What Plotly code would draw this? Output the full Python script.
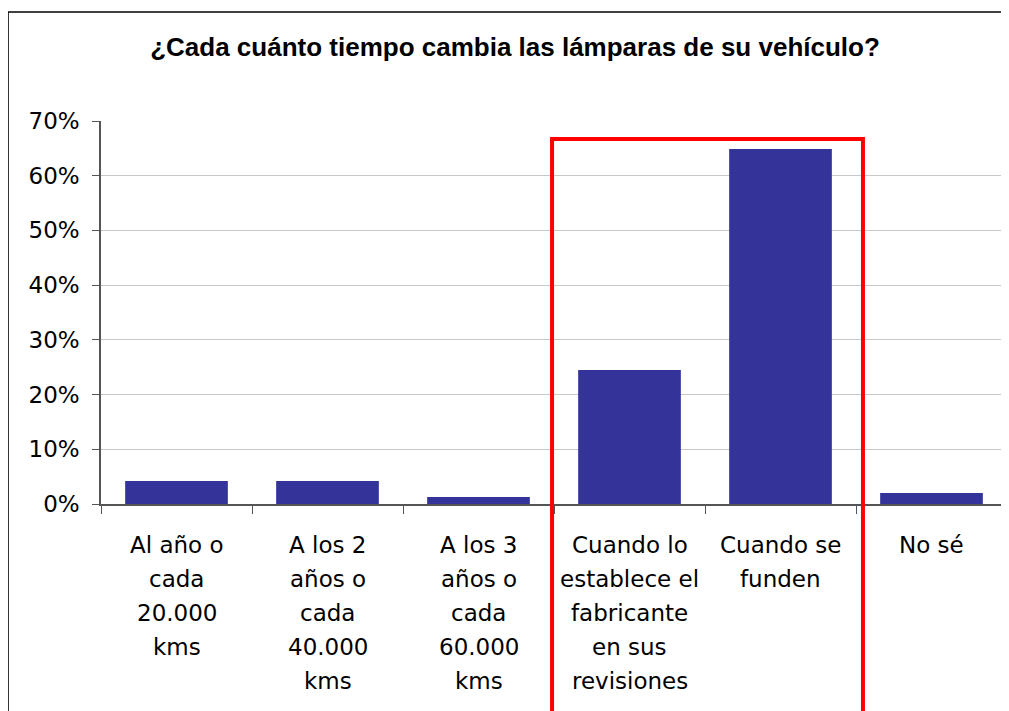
import plotly.graph_objects as go

categories = [
    "Al año o cada 20.000 kms",
    "A los 2 años o cada 40.000 kms",
    "A los 3 años o cada 60.000 kms",
    "Cuando lo establece el fabricante en sus revisiones",
    "Cuando se funden",
    "No sé",
]
label_lines = [
    ["Al año o", "cada", "20.000", "kms"],
    ["A los 2", "años o", "cada", "40.000", "kms"],
    ["A los 3", "años o", "cada", "60.000", "kms"],
    ["Cuando lo", "establece el", "fabricante", "en sus", "revisiones"],
    ["Cuando se", "funden"],
    ["No sé"],
]
values = [0.042, 0.042, 0.013, 0.245, 0.649, 0.020]
y_ticks = [0, 0.1, 0.2, 0.3, 0.4, 0.5, 0.6, 0.7]
y_labels = ["0%", "10%", "20%", "30%", "40%", "50%", "60%", "70%"]

label_font = "DejaVu Sans"
plot_h = 383  # alto del área de trazado en px

fig = go.Figure()

fig.add_trace(
    go.Bar(
        x=categories,
        y=values,
        marker=dict(color="#333399", line=dict(width=0)),
        hoverinfo="skip",
    )
)

# etiquetas del eje x, una línea por anotación para imitar el interlineado
for cat, lines in zip(categories, label_lines):
    for i, txt in enumerate(lines):
        fig.add_annotation(
            x=cat, xref="x",
            y=-(41 + 34 * i) / plot_h, yref="paper",
            text=txt, showarrow=False,
            xanchor="center", yanchor="middle",
            font=dict(family=label_font, size=23, color="black"),
        )

# marco del gráfico (solo se ven los bordes superior e izquierdo)
fig.add_shape(
    type="line", xref="paper", yref="paper",
    x0=-0.1026, x1=1.2, y0=1.2846, y1=1.2846,
    line=dict(color="black", width=1.5),
)
fig.add_shape(
    type="line", xref="paper", yref="paper",
    x0=-0.1026, x1=-0.1026, y0=1.2846, y1=-0.7,
    line=dict(color="black", width=1.5),
)

# recuadro rojo destacando dos categorías
fig.add_shape(
    type="rect", xref="x", yref="paper",
    x0=2.487, x1=4.546, y0=-0.7, y1=0.953,
    line=dict(color="#FF0000", width=4),
    fillcolor="rgba(0,0,0,0)",
)

fig.update_layout(
    width=1001,
    height=703,
    margin=dict(l=93, r=2, t=113, b=207),
    paper_bgcolor="white",
    plot_bgcolor="white",
    showlegend=False,
    bargap=0.32,
    title=dict(
        text="<b>¿Cada cuánto tiempo cambia las lámparas de su vehículo?</b>",
        font=dict(family="Liberation Sans", size=26, color="black"),
        x=507 / 1001,
        xanchor="center",
        xref="container",
        y=1 - 39 / 703,
        yanchor="middle",
        yref="container",
    ),
    xaxis=dict(
        type="category",
        showline=True,
        linecolor="#555555",
        linewidth=1.5,
        ticks="outside",
        tickson="boundaries",
        ticklen=8,
        tickcolor="#555555",
        showticklabels=False,
        showgrid=False,
    ),
    yaxis=dict(
        range=[0, 0.7],
        tickvals=y_ticks,
        ticktext=y_labels,
        showline=True,
        linecolor="#555555",
        linewidth=1.5,
        ticks="outside",
        ticklen=7,
        tickcolor="#555555",
        ticklabelstandoff=8,
        tickfont=dict(family=label_font, size=23, color="black"),
        showgrid=True,
        gridcolor="#C8C8C8",
        gridwidth=1,
        zeroline=False,
    ),
)

fig.write_html("out.html")
